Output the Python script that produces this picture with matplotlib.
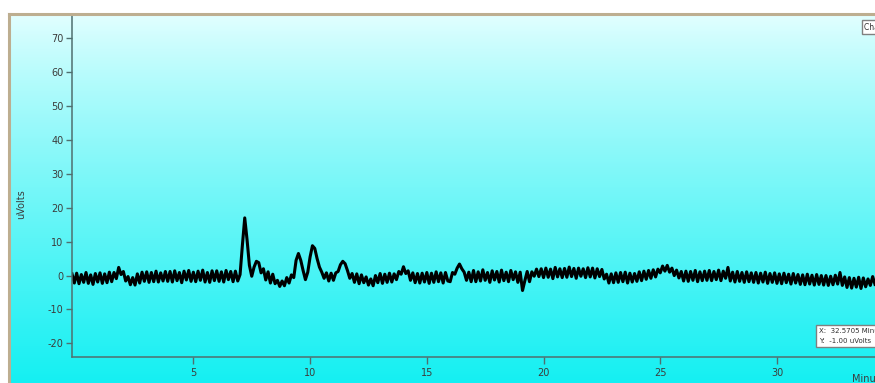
import numpy as np
import matplotlib
matplotlib.use("Agg")
import matplotlib.pyplot as plt
from matplotlib.lines import Line2D

plt.rcParams['axes.unicode_minus'] = False

# detector signal (uVolts), read every 0.1 min from -0.2 to 34.2 min
signal_rows = [
    [0.5, -2.2],
    [0.7, -2.4, 0.3, -2.0, 0.9, -2.3, 0.2, -2.6, 0.6, -1.9],        # 0
    [0.8, -2.3, 0.5, -2.1, 1.0, -1.8, 0.9, -0.9, 2.4, 0.3],         # 1
    [1.2, -1.6, -0.3, -2.7, -0.6, -2.8, 0.5, -2.2, 1.0, -1.7],      # 2
    [1.1, -2.0, 0.9, -1.8, 1.3, -1.9, 0.8, -1.6, 1.2, -1.7],        # 3
    [1.2, -1.9, 1.4, -1.5, 0.9, -2.1, 1.3, -1.3, 1.5, -1.7],        # 4
    [1.0, -1.8, 1.3, -1.4, 1.6, -1.9, 0.9, -2.0, 1.4, -1.5],        # 5
    [1.4, -1.7, 1.1, -1.9, 1.5, -1.2, 1.2, -1.8, 1.3, -1.6],        # 6
    [0.3, 9.0, 17.0, 10.5, 3.0, -0.2, 2.5, 4.2, 3.8, 0.8],          # 7
    [2.0, -1.3, 1.1, -2.2, 0.4, -2.4, -1.4, -3.2, -1.6, -3.0],      # 8
    [-0.6, -2.2, 0.2, -0.6, 4.5, 6.5, 4.5, 1.5, -1.2, 1.0],         # 9
    [5.5, 8.8, 8.0, 5.0, 2.5, 1.0, -0.8, 0.8, -1.6, 0.7],           # 10
    [-1.4, 0.8, 1.2, 3.2, 4.2, 3.5, 1.5, -0.8, 0.6, -2.0],          # 11
    [0.5, -2.4, 0.2, -2.1, -0.4, -2.8, -1.0, -3.0, 0.0, -2.1],      # 12
    [0.6, -2.3, 0.4, -2.0, 0.7, -1.9, 0.5, -1.2, 1.2, 0.4],         # 13
    [2.6, 0.6, 1.4, -1.4, 0.8, -2.1, 0.6, -2.2, 0.7, -1.9],         # 14
    [0.9, -2.3, 0.7, -2.0, 1.1, -1.8, 0.8, -2.2, 0.9, -1.6],        # 15
    [-1.8, 0.9, 0.4, 2.2, 3.4, 2.0, 1.0, -1.4, 1.0, -1.8],          # 16
    [1.5, -1.8, 1.1, -1.6, 1.7, -1.4, 0.9, -2.0, 1.4, -1.3],        # 17
    [1.2, -1.9, 1.6, -1.5, 1.0, -1.8, 1.5, -1.2, 1.1, -2.0],        # 18
    [1.0, -4.4, -1.5, 1.2, -1.8, 1.1, -0.2, 1.9, -0.3, 2.0],        # 19
    [-0.6, 2.2, -0.5, 1.9, -0.9, 2.4, -0.4, 2.0, -0.6, 2.1],        # 20
    [-0.5, 2.5, -0.3, 2.1, -0.8, 2.2, -0.2, 2.0, -0.6, 2.3],        # 21
    [-0.4, 2.2, -0.7, 2.0, -0.3, 1.8, -1.0, 0.4, -2.2, 0.5],        # 22
    [-2.1, 0.8, -2.0, 0.9, -1.8, 1.0, -2.2, 0.7, -1.9, 0.6],        # 23
    [-1.7, 1.1, -1.5, 1.3, -1.1, 1.5, -0.8, 1.7, -0.4, 1.9],        # 24
    [0.8, 2.8, 1.3, 3.0, 1.0, 2.2, 0.0, 1.6, -0.7, 1.2],            # 25
    [-1.6, 1.3, -1.7, 1.2, -1.4, 1.5, -1.8, 1.1, -1.5, 1.3],        # 26
    [-1.4, 1.5, -1.5, 1.2, -1.2, 1.6, -1.5, 1.3, -0.8, 2.4],        # 27
    [-1.6, 1.0, -1.9, 1.2, -1.7, 0.9, -2.0, 1.1, -1.8, 0.8],        # 28
    [-2.0, 0.9, -2.2, 0.7, -1.9, 1.0, -2.3, 0.6, -2.0, 0.8],        # 29
    [-2.3, 0.5, -2.4, 0.7, -2.1, 0.4, -2.5, 0.6, -2.2, 0.3],        # 30
    [-2.6, 0.2, -2.7, 0.4, -2.5, 0.1, -2.8, 0.3, -2.6, 0.0],        # 31
    [-2.8, 0.0, -2.9, -0.2, -2.7, 0.1, -2.5, 0.9, -2.9, -0.4],      # 32
    [-3.5, -0.6, -3.7, -0.8, -3.4, -0.5, -3.8, -0.7, -3.3, -1.0],   # 33
    [-2.9, -0.3, -2.6],                                             # 34
]
signal = np.array([v for row in signal_rows for v in row])
minutes = np.round(-0.2 + 0.1 * np.arange(len(signal)), 1)

x_ticks = [5, 10, 15, 20, 25, 30]
y_ticks = [-20, -10, 0, 10, 20, 30, 40, 50, 60, 70]

W, H = 875, 383
fig = plt.figure(figsize=(W / 100, H / 100), dpi=100)
fig.patch.set_facecolor('white')

# gradient panel behind everything
bg = fig.add_axes([10 / W, 0, 1 - 10 / W, (H - 15) / H])
top = np.array([0.89, 1.0, 1.0])
bottom = np.array([0.08, 0.94, 0.95])
t = np.linspace(0, 1, 256)[:, None] ** 0.85
grad = (top * (1 - t) + bottom * t)[:, None, :].repeat(2, axis=1)
bg.imshow(grad, aspect='auto', extent=[0, 1, 0, 1], interpolation='bilinear')
bg.axis('off')

border = '#bdae90'
fig.add_artist(Line2D([9 / W, 9 / W], [0, (H - 14) / H], color=border, lw=2.2,
                      transform=fig.transFigure))
fig.add_artist(Line2D([9 / W, 1], [(H - 14) / H, (H - 14) / H], color=border, lw=2.2,
                      transform=fig.transFigure))

ax = fig.add_axes([72 / W, (H - 357) / H, 1 - 72 / W, (357 - 16) / H])
ax.patch.set_alpha(0)
ax.plot(minutes, signal, color='black', lw=2.2)

ax.set_xlim(-0.2, 34.2)
ax.set_ylim(-24, 76.5)
ax.set_xticks(x_ticks)
ax.set_yticks(y_ticks)
for s in ('top', 'right'):
    ax.spines[s].set_visible(False)
axis_col = '#4f6f6f'
for s in ('left', 'bottom'):
    ax.spines[s].set_color(axis_col)
    ax.spines[s].set_linewidth(1.1)
ax.tick_params(axis='both', direction='out', length=4, width=1, color=axis_col,
               labelsize=7, labelcolor='#3c3c3c', pad=2)
ax.tick_params(axis='x', length=5, pad=3)

fig.text(21 / W, 1 - 204 / H, 'uVolts', rotation=90, fontsize=7, color='#3c3c3c',
         ha='center', va='center')
fig.text(852 / W, 1 - 379 / H, 'Minutes', fontsize=7, color='#3c3c3c',
         ha='left', va='center')
fig.text(864 / W, 1 - 27 / H, 'Channel A', fontsize=5.5, color='#303030',
         ha='left', va='center',
         bbox=dict(boxstyle='square,pad=0.3', fc='white', ec='#808080', lw=1))
fig.text(819 / W, 1 - 336 / H, 'X:  32.5705 Minutes\nY:  -1.00 uVolts', fontsize=5,
         color='#303030', ha='left', va='center', linespacing=1.9,
         bbox=dict(boxstyle='square,pad=0.45', fc='white', ec='#808080', lw=1))

fig.savefig('out.png', dpi=100)
